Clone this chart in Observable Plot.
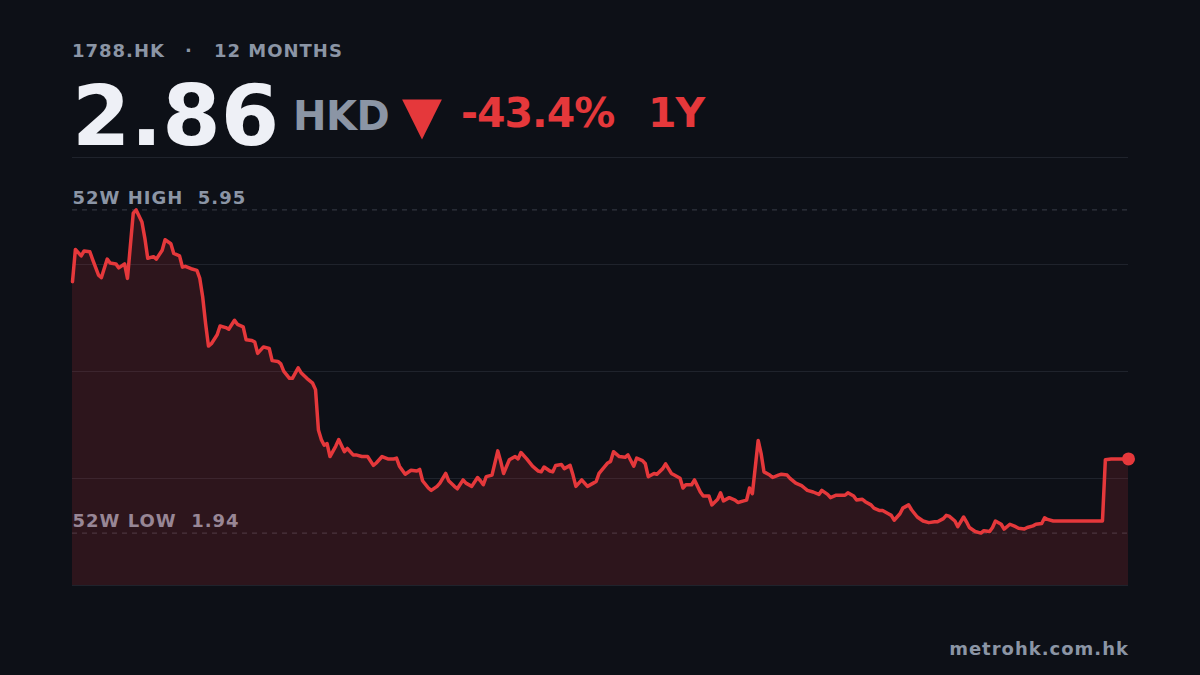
<!DOCTYPE html>
<html>
<head>
<meta charset="utf-8">
<script src="https://cdn.jsdelivr.net/npm/d3@7"></script>
<script src="https://cdn.jsdelivr.net/npm/@observablehq/plot@0.6"></script>
<style>
  html, body { margin: 0; padding: 0; background: #0d1017; }
  #wrap { position: relative; width: 1200px; height: 675px; overflow: hidden; background: #0d1017; font-family: "DejaVu Sans", sans-serif; font-weight: bold; }
  .t { position: absolute; line-height: 1; white-space: pre; }
  .small { font-size: 18px; letter-spacing: 1px; color: #8b95a5; }
  #chart { position: absolute; left: 0; top: 0; }
  svg text { white-space: pre; }
</style>
</head>
<body>
<div id="wrap">
  <div id="chart"></div>
  <div class="t small" style="left:72px; top:42px;">1788.HK</div>
  <div class="t small" style="left:185px; top:42px;">·</div>
  <div class="t small" style="left:214px; top:42px;">12 MONTHS</div>
  <div class="t" style="left:72px; top:74px; font-size:84px; color:#eef0f6;">2.86</div>
  <div class="t" style="left:293px; top:96px; font-size:40px; letter-spacing:-0.5px; color:#8b95a5;">HKD</div>
  <div class="t" style="left:402px; top:89px; font-size:52px; color:#e5383b;">▼</div>
  <div class="t" style="left:461px; top:93px; font-size:41px; letter-spacing:-1px; color:#e5383b;">-43.4%</div>
  <div class="t" style="left:648px; top:93px; font-size:41px; letter-spacing:-1px; color:#e5383b;">1Y</div>
  <div class="t small" style="right:71px; top:640px;">metrohk.com.hk</div>
</div>
<script>
// Day offsets within the 12-month window (0 = start, 365 = latest)
const days = [0,1,3,4,6,7,9,10,12,13,15,16,18,19,21,22,24,25,26,28,29,31,32,34,35,37,38,39,41,43,44,45,46,47,48,50,51,53,54,56,57,59,60,62,63,64,66,68,69,71,72,73,75,76,78,79,81,83,84,
85,86,87,88,89,91,92,94,95,97,98,100,102,104,105,107,109,111,112,113,115,117,119,120,121,123,124,126,127,129,130,132,133,135,136,138,140,141,142,143,145,147,148,149,151,153,154,155,157,159,161,162,163,165,166,167,169,170,172,173,174,176,178,180,181,182,
185,186,187,189,191,192,194,195,197,198,199,201,202,204,205,207,208,210,211,212,214,215,217,218,220,221,223,224,225,227,229,230,232,233,234,235,236,237,238,239,241,242,244,245,247,248,250,252,253,254,256,258,259,261,262,264,265,267,268,270,271,273,274,276,277,279,280,282,283,284,286,287,289,290,292,294,296,298,299,301,302,303,305,306,308,309,310,312,314,315,317,318,319,321,322,324,326,327,329,330,332,333,335,336,337,339,341,347,353,356,357,359,362,363,365];
// Closing prices (HKD)
const prices = [5.06,5.46,5.38,5.44,5.43,5.33,5.14,5.11,5.34,5.29,5.28,5.23,5.28,5.10,5.91,5.95,5.80,5.60,5.35,5.37,5.34,5.45,5.58,5.53,5.41,5.38,5.24,5.25,5.22,5.20,5.10,4.87,4.54,4.26,4.29,4.40,4.51,4.49,4.47,4.58,4.53,4.50,4.34,4.33,4.31,4.17,4.25,4.23,4.08,4.07,4.04,3.95,3.86,3.86,3.99,3.93,3.86,3.80,3.72,
3.22,3.10,3.03,3.05,2.89,3.02,3.10,2.95,2.99,2.91,2.91,2.89,2.89,2.78,2.81,2.89,2.86,2.86,2.87,2.77,2.67,2.72,2.71,2.73,2.59,2.50,2.47,2.52,2.56,2.68,2.59,2.52,2.49,2.60,2.56,2.52,2.63,2.59,2.54,2.64,2.66,2.96,2.83,2.68,2.85,2.89,2.86,2.94,2.86,2.77,2.71,2.70,2.76,2.71,2.70,2.78,2.79,2.74,2.78,2.66,2.52,2.60,2.52,2.56,2.58,2.68,
2.81,2.83,2.95,2.89,2.88,2.91,2.77,2.87,2.84,2.80,2.64,2.68,2.67,2.74,2.80,2.68,2.66,2.62,2.50,2.54,2.54,2.60,2.45,2.40,2.40,2.29,2.36,2.44,2.34,2.38,2.35,2.32,2.34,2.35,2.50,2.43,2.76,3.09,2.93,2.70,2.66,2.63,2.66,2.67,2.66,2.62,2.56,2.53,2.50,2.47,2.45,2.42,2.47,2.42,2.38,2.41,2.41,2.41,2.44,2.40,2.35,2.36,2.33,2.29,2.25,2.22,2.22,2.18,2.16,2.10,2.18,2.25,2.29,2.23,2.14,2.09,2.07,2.08,2.08,2.12,2.16,2.15,2.09,2.02,2.14,2.08,2.01,1.96,1.94,1.97,1.96,2.01,2.09,2.05,1.99,2.05,2.02,2.00,1.99,2.01,2.03,2.05,2.06,2.13,2.11,2.09,2.09,2.09,2.09,2.09,2.85,2.86,2.86,2.86,2.86];

const high52 = 5.95;
const low52 = 1.94;
const refLabels = ["52W HIGH  5.95", "52W LOW  1.94"];
const refValues = [high52, low52];

const red = "#e5383b";
const pad = 0.65;
const yDomain = [low52 - pad, high52 + pad];
const gridValues = d3.range(5).map(i => yDomain[0] + (yDomain[1] - yDomain[0]) * i / 4);

const data = days.map((d, i) => ({day: d, price: prices[i]}));
const refs = refValues.map((v, i) => ({v, label: refLabels[i]}));
const last = data[data.length - 1];

const chart = Plot.plot({
  width: 1200,
  height: 675,
  marginLeft: 72,
  marginRight: 72,
  marginTop: 157,
  marginBottom: 90,
  style: {background: "transparent", fontFamily: "DejaVu Sans, sans-serif", letterSpacing: "1px"},
  x: {domain: [0, 365], axis: null},
  y: {domain: yDomain, axis: null},
  marks: [
    Plot.ruleY(gridValues, {stroke: "#1f232c", strokeWidth: 1}),
    Plot.ruleY(refs, {y: "v", stroke: "#8b95a5", strokeOpacity: 0.35, strokeDasharray: "5,5", strokeWidth: 1}),
    Plot.text(refs, {y: "v", text: "label", frameAnchor: "left", textAnchor: "start", lineAnchor: "bottom", dy: -6, fill: "#8b95a5", fontSize: 18, fontWeight: "bold"}),
    Plot.areaY(data, {x: "day", y1: () => yDomain[0], y2: "price", fill: red, fillOpacity: 0.15}),
    Plot.lineY(data, {x: "day", y: "price", stroke: red, strokeWidth: 3.5, strokeLinejoin: "round", strokeLinecap: "round"}),
    Plot.dot([last], {x: "day", y: "price", r: 6.5, fill: red, stroke: "none"})
  ]
});
document.getElementById("chart").appendChild(chart);
</script>
</body>
</html>
